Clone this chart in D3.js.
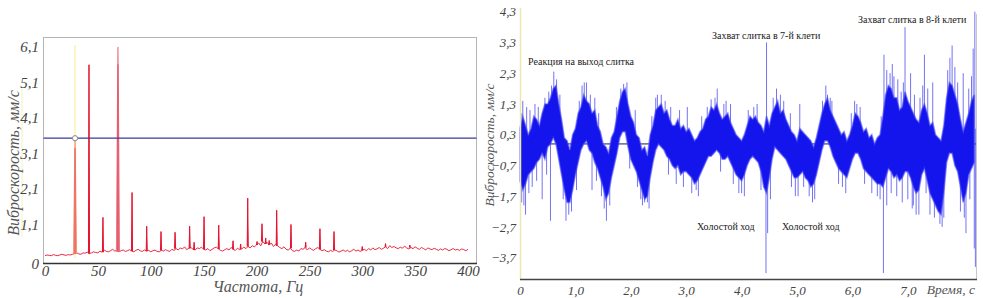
<!DOCTYPE html>
<html>
<head>
<meta charset="utf-8">
<script src="https://cdn.jsdelivr.net/npm/d3@7"></script>
<style>
  body { margin: 0; background: #fff; }
  svg { display: block; }
  text { font-family: "Liberation Serif", "DejaVu Serif", serif; }
</style>
</head>
<body>
<div id="chart"></div>
<script>
// ---- spectrum (left) ----
var specStep = 2; // Hz between floor samples
var specFloor = [
  0.22,0.24,0.23,0.22,0.25,0.23,0.22,0.24,0.26,0.24,0.23,0.25,0.24,0.26,
  0.28,0.3,0.27,0.26,0.3,0.29,0.32,0.28,0.3,0.33,0.31,0.3,
  0.35,0.32,0.38,0.34,0.33,0.36,0.4,0.35,0.37,0.33,0.36,0.38,0.34,0.36,0.39,0.35,0.33,0.37,0.4,0.36,0.34,0.38,0.35,0.37,0.33,
  0.36,0.38,0.34,0.33,0.37,0.35,0.39,0.36,0.34,0.4,0.37,0.42,0.38,0.44,0.41,0.47,0.39,0.43,0.45,0.4,0.38,0.44,0.42,0.46,0.4,
  0.38,0.42,0.36,0.4,0.44,0.46,0.41,0.37,0.35,0.39,0.42,0.38,0.45,0.4,0.37,0.43,0.39,0.41,0.46,0.42,0.48,0.44,0.5,0.47,0.52,
  0.58,0.5,0.62,0.55,0.6,0.52,0.58,0.48,0.54,0.5,0.45,0.42,0.47,0.4,0.38,0.43,0.36,0.34,0.38,0.35,0.42,0.4,0.45,0.38,0.44,
  0.4,0.37,0.42,0.45,0.4,0.36,0.39,0.35,0.33,0.37,0.34,0.38,0.36,0.32,0.35,0.38,0.34,0.37,0.33,0.36,0.4,0.35,0.38,0.34,0.37,
  0.4,0.36,0.42,0.38,0.44,0.39,0.41,0.45,0.4,0.43,0.47,0.42,0.5,0.45,0.48,0.44,0.42,0.46,0.43,0.49,0.44,0.41,0.45,0.42,0.47,
  0.43,0.4,0.45,0.42,0.38,0.44,0.41,0.39,0.43,0.4,0.37,0.41,0.38,0.42,0.4,0.36,0.39,0.42,0.38,0.4,0.37,0.41,0.39,0.36,0.4
];
var peakFreq = [28.4, 41.6, 54.8, 69, 82.3, 96.2, 109.7, 123, 136.8, 141, 150.4, 164.3, 177.8, 185, 191.7, 200.5, 205.2, 208.7, 212, 219.1, 232.6, 246.5, 260, 273.3, 300, 322, 345];
var peakAmp  = [3.53, 5.6, 1.3, 6.1, 2.0, 1.05, 0.9, 0.88, 1.05, 0.6, 1.32, 1.08, 0.64, 0.55, 1.84, 0.62, 1.12, 0.72, 0.65, 1.5, 1.1, 0.6, 0.98, 0.9, 0.48, 0.56, 0.52];
var specLevel = 3.53;
var specYTicks = [0, 1.1, 2.1, 3.1, 4.1, 5.1, 6.1];
var specXTicks = [0, 50, 100, 150, 200, 250, 300, 350, 400];

// ---- time signal (right) ----
var timeStep = 0.05; // s between envelope samples
var coreHi = [
  0.5,0.9,0.6,0.3,0.5,0.9,0.8,0.6,1.0,1.3,1.3,1.5,1.8,1.9,1.3,0.8,0.2,0.1,-0.2,0.3,
  0.5,1.0,1.2,1.6,1.4,1.3,1.0,1.1,0.6,0.4,0.0,-0.1,-0.3,0.2,0.4,0.9,1.4,1.7,1.8,1.3,
  0.9,0.7,0.3,0.2,-0.2,-0.1,-0.4,0.3,0.6,1.1,1.2,1.3,1.0,1.1,0.8,0.6,0.6,0.8,0.5,0.6,
  0.4,0.5,0.3,0.1,0.2,0.4,0.5,0.8,0.9,1.2,1.1,1.3,1.0,0.8,0.9,1.0,0.7,0.5,0.3,0.2,
  0.1,0.3,0.6,0.9,0.8,0.9,0.7,0.6,0.4,0.9,0.6,1.0,1.2,1.4,1.0,1.1,0.8,0.6,0.4,0.3,
  0.1,0.5,0.4,0.3,0.2,0.1,-0.1,0.2,0.6,1.0,1.3,1.5,1.1,0.9,0.7,0.5,0.3,0.4,0.1,0.3,
  0.6,1.0,0.9,0.7,0.4,0.5,0.2,0.3,0.0,0.2,0.3,0.9,1.6,1.9,1.8,1.5,1.5,1.1,1.2,1.7,
  1.4,1.2,1.0,0.8,0.7,1.1,1.3,1.0,0.6,0.7,0.3,0.2,0.1,0.6,1.5,2.0,1.9,1.6,1.3,0.8,
  0.4,0.7,1.0,1.4,1.6
];
var coreLo = [
  -1.2,-1.5,-1.3,-1.0,-0.9,-0.8,-0.6,-0.5,-0.3,-0.5,-0.1,0.0,0.2,0.0,-0.5,-1.0,-1.5,-1.9,-1.9,-1.5,
  -1.0,-0.6,-0.2,0.0,0.1,-0.2,-0.3,-0.6,-0.8,-1.1,-1.4,-1.8,-1.6,-1.1,-0.7,-0.3,0.2,0.4,0.4,-0.1,
  -0.5,-0.7,-0.9,-1.2,-1.5,-1.8,-1.7,-1.1,-0.6,-0.2,0.0,-0.1,-0.2,-0.4,-0.5,-0.7,-0.8,-0.7,-1.0,-0.9,
  -0.9,-1.0,-1.1,-1.3,-1.2,-1.0,-0.8,-0.6,-0.4,-0.4,-0.3,-0.2,-0.3,-0.5,-0.5,-0.4,-0.6,-0.8,-1.0,-1.1,
  -1.2,-1.0,-0.7,-0.5,-0.4,-0.5,-0.6,-0.9,-1.4,-1.6,-1.1,-0.5,-0.1,-0.2,-0.3,-0.4,-0.5,-0.7,-0.9,-1.1,
  -1.1,-1.0,-0.9,-1.1,-1.2,-1.4,-1.3,-1.0,-0.6,-0.2,0.1,0.1,-0.1,-0.4,-0.6,-0.8,-0.9,-1.0,-1.1,-0.8,
  -0.5,-0.3,-0.3,-0.5,-0.8,-0.9,-1.0,-1.1,-1.2,-1.3,-1.3,-1.4,-1.1,-0.8,-0.9,-1.1,-1.0,-1.2,-1.1,-0.9,
  -0.9,-1.1,-1.4,-1.6,-1.5,-1.0,-0.8,-1.2,-1.6,-1.8,-2.0,-2.2,-2.3,-1.6,-0.6,-0.3,-0.3,-0.7,-0.9,-1.4,
  -1.9,-1.6,-1.0,-0.8,-0.6
];
var spikeTime = [
  0.05,0.12,0.45,0.61,0.66,1.12,1.2,1.35,1.87,2.45,2.55,3.02,3.45,3.56,3.8,4.45,4.63,4.7,5.05,5.55,5.6,6.08,6.57,6.62,6.75,6.95,7.05,7.3,7.45,7.8,7.85,8.0,8.18,8.21,
  0.02,0.18,0.27,0.33,0.52,0.57,0.72,1.07,1.16,1.27,1.42,1.74,1.82,1.93,2.08,2.38,2.48,2.62,2.72,2.88,3.28,3.38,3.52,3.68,3.72,4.12,4.22,4.28,4.57,4.76,4.88,5.46,5.52,5.63,5.98,6.04,6.14,6.52,6.68,6.72,6.82,6.88,6.92,7.12,7.22,7.27,7.36,7.72,7.76,7.9,8.1,8.15,
  0.03,0.1,0.4,0.55,0.83,0.88,1.3,1.52,1.56,2.18,2.25,2.3,3.18,4.0,4.44,4.47,5.02,5.32,5.75,6.45,6.56,6.62,7.0,7.1,7.2,7.4,7.62,7.65,8.05,8.2,8.22,
  0.07,0.16,0.22,0.3,0.48,0.78,0.93,1.02,1.38,1.47,1.62,1.98,2.12,2.21,2.33,2.68,2.82,2.95,3.1,3.22,3.62,3.85,3.95,4.05,4.35,4.52,4.9,4.97,5.12,5.22,5.28,5.82,5.88,6.22,6.35,6.5,6.7,6.8,6.9,7.08,7.15,7.33,7.48,7.58,7.95,8.02,8.12
];
var spikeAmp = [
  1.4,1.2,1.5,2.35,2.1,1.9,2.0,1.5,1.95,1.5,1.6,1.2,1.45,1.8,1.3,3.3,1.8,1.6,1.3,1.6,1.5,1.3,2.9,2.4,2.2,3.8,2.3,2.9,2.0,3.2,2.5,2.3,3.1,4.3,
  1.0,1.1,1.3,1.2,1.7,1.9,1.6,1.4,2.0,1.6,1.0,1.2,1.8,2.0,1.1,0.9,1.6,1.4,1.2,1.1,0.9,1.2,1.5,1.3,1.4,1.1,1.2,1.3,1.5,1.4,1.0,1.4,1.9,1.4,1.0,1.4,1.2,0.9,2.3,2.6,2.1,1.7,2.0,1.6,1.5,1.9,1.8,2.4,2.8,2.0,1.8,2.2,
  -1.9,-2.3,-1.8,-2.5,-2.5,-2.3,-1.5,-2.1,-2.5,-1.8,-1.9,-1.9,-1.5,-1.6,-4.2,-2.9,-1.7,-1.8,-1.3,-1.7,-4.2,-2.0,-1.8,-2.0,-2.3,-2.3,-2.7,-2.4,-2.9,-3.4,-4.0,
  -2.0,-1.6,-1.4,-1.2,-1.0,-1.8,-2.2,-1.5,-1.2,-1.7,-2.0,-0.8,-1.4,-2.0,-2.1,-1.0,-1.3,-1.4,-1.6,-1.7,-0.9,-1.3,-1.6,-1.7,-1.5,-1.8,-1.4,-1.7,-1.4,-1.7,-1.9,-1.4,-1.6,-1.3,-1.6,-1.8,-1.6,-1.7,-1.9,-2.1,-2.3,-1.6,-2.4,-2.6,-2.2,-2.4,-1.8
];
var timeYTicks = [4.3, 3.3, 2.3, 1.3, 0.3, -0.7, -1.7, -2.7, -3.7];
var timeXTicks = [0, 1, 2, 3, 4, 5, 6, 7];
var notes = ["Реакция на выход слитка", "Захват слитка в 7-й клети", "Захват слитка в 8-й клети", "Холостой ход", "Холостой ход"];

function comma(v) {
  if (v === 0) return "0";
  return d3.format(".1f")(v).replace(".", ",");
}

function init() {
  var w = 983, h = 298;
  var svg = d3.select("#chart").append("svg").attr("width", w).attr("height", h);
  svg.append("rect").attr("width", w).attr("height", h).attr("fill", "#fff");

  // ================= left panel =================
  var xF = d3.scaleLinear().domain([0, 400]).range([45, 468]);
  var yF = d3.scaleLinear().domain([0, 6.1]).range([263.5, 47]);
  var left = svg.append("g");

  left.append("rect")
      .attr("x", 43.5).attr("y", 37.5)
      .attr("width", 433).attr("height", 226)
      .attr("fill", "none").attr("stroke", "#b5b5b5");

  // faint marker lines
  left.append("line")
      .attr("x1", 22).attr("x2", 22).attr("y1", 87).attr("y2", 237)
      .attr("stroke", "#f8f6d2").attr("stroke-width", 1.5);
  left.append("line")
      .attr("x1", xF(28.4)).attr("x2", xF(28.4)).attr("y1", 45).attr("y2", 258)
      .attr("stroke", "#faf6c8").attr("stroke-width", 2);

  var floorPts = specFloor.map(function(v, i) { return [i * specStep, v]; });
  var line = d3.line().x(function(d) { return xF(d[0]); }).y(function(d) { return yF(d[1]); });
  left.append("path")
      .attr("d", line(floorPts))
      .attr("fill", "none").attr("stroke", "#e5132f").attr("stroke-width", 0.9);

  peakFreq.forEach(function(f, i) {
    var base = specFloor[Math.round(f / specStep)];
    var wide = (i === 0 || i === 3);
    var hw = wide ? 1.4 : 0.5;
    var col = i === 0 ? "#f29a7f" : (i === 3 ? "#ea7c8a" : "#e5132f");
    left.append("path")
        .attr("d", line([[f - hw, base], [f, peakAmp[i]], [f + hw, base]]))
        .attr("fill", col).attr("stroke", col).attr("stroke-width", wide ? 1.2 : 1);
    if (wide) {
      left.append("path")
          .attr("d", line([[f, base], [f, peakAmp[i] * 0.92]]))
          .attr("stroke", "#e5132f").attr("stroke-width", 0.8).attr("opacity", 0.7);
    }
  });

  left.append("line")
      .attr("x1", 43.5).attr("x2", 476.5)
      .attr("y1", yF(specLevel)).attr("y2", yF(specLevel))
      .attr("stroke", "#3b3b9e").attr("stroke-width", 1.3);
  left.append("circle")
      .attr("cx", xF(28.4)).attr("cy", yF(specLevel)).attr("r", 2.6)
      .attr("fill", "#fff").attr("stroke", "#888").attr("stroke-width", 1);

  left.append("line")
      .attr("x1", 43).attr("x2", 477).attr("y1", 263.5).attr("y2", 263.5)
      .attr("stroke", "#333").attr("stroke-width", 1.4);

  var axL = left.append("g").attr("transform", "translate(43,0)")
      .call(d3.axisLeft(yF).tickValues(specYTicks).tickSize(0).tickPadding(4).tickFormat(comma));
  var axB = left.append("g").attr("transform", "translate(0,263.5)")
      .call(d3.axisBottom(xF).tickValues(specXTicks).tickSize(0).tickPadding(2).tickFormat(d3.format("d")));
  [axL, axB].forEach(function(a) {
    a.select(".domain").remove();
    a.selectAll("text")
        .attr("font-style", "italic").attr("font-size", 15).attr("fill", "#444");
  });

  left.append("text")
      .attr("transform", "translate(19,163) rotate(-90)")
      .attr("text-anchor", "middle")
      .attr("font-style", "italic").attr("font-size", 16).attr("fill", "#555")
      .text("Виброскорость, мм/с");
  left.append("text")
      .attr("x", 258).attr("y", 292)
      .attr("text-anchor", "middle")
      .attr("font-style", "italic").attr("font-size", 16).attr("fill", "#555")
      .text("Частота, Гц");

  // ================= right panel =================
  var xT = d3.scaleLinear().domain([0, 8]).range([520, 963.2]);
  var yT = d3.scaleLinear().domain([-3.7, 4.3]).range([257.7, 11.7]);
  var right = svg.append("g");

  right.append("line")
      .attr("x1", 976.5).attr("x2", 976.5).attr("y1", 14).attr("y2", 280)
      .attr("stroke", "#c8c8c8");

  right.append("line")
      .attr("x1", 520).attr("x2", 976).attr("y1", yT(0)).attr("y2", yT(0))
      .attr("stroke", "#1b1b55").attr("stroke-width", 1);

  var band = coreHi.map(function(v, i) { return { t: i * timeStep, hi: v, lo: coreLo[i] }; });
  var area = d3.area()
      .x(function(d) { return xT(d.t); })
      .y0(function(d) { return yT(d.lo); })
      .y1(function(d) { return yT(d.hi); });

  spikeTime.forEach(function(t, i) {
    var k = Math.min(band.length - 1, Math.round(t / timeStep));
    var mid = (band[k].hi + band[k].lo) / 2;
    right.append("line")
        .attr("x1", xT(t)).attr("x2", xT(t))
        .attr("y1", yT(mid)).attr("y2", yT(spikeAmp[i]))
        .attr("stroke", "#3a3af2").attr("stroke-width", 1).attr("opacity", 0.7);
  });

  right.append("path")
      .attr("d", area(band))
      .attr("fill", "#1414ec")
      .attr("stroke", "#4e4efa").attr("stroke-width", 1.6).attr("stroke-opacity", 0.6);

  right.append("line")
      .attr("x1", 520.5).attr("x2", 520.5).attr("y1", 8).attr("y2", 280)
      .attr("stroke", "#ebe7b0").attr("stroke-width", 1.5);
  right.append("line")
      .attr("x1", 520).attr("x2", 977).attr("y1", 279.5).attr("y2", 279.5)
      .attr("stroke", "#444").attr("stroke-width", 1.4);

  var axR = right.append("g").attr("transform", "translate(520,0)")
      .call(d3.axisLeft(yT).tickValues(timeYTicks).tickSize(0).tickPadding(4).tickFormat(comma));
  var axT = right.append("g").attr("transform", "translate(0,279.5)")
      .call(d3.axisBottom(xT).tickValues(timeXTicks).tickSize(0).tickPadding(6).tickFormat(comma));
  [axR, axT].forEach(function(a) {
    a.select(".domain").remove();
    a.selectAll("text")
        .attr("font-style", "italic").attr("font-size", 13).attr("fill", "#444");
  });

  right.append("text")
      .attr("transform", "translate(494,145) rotate(-90)")
      .attr("text-anchor", "middle")
      .attr("font-style", "italic").attr("font-size", 13.5).attr("fill", "#555")
      .text("Виброскорость, мм/с");
  right.append("text")
      .attr("x", 975).attr("y", 294)
      .attr("text-anchor", "end")
      .attr("font-style", "italic").attr("font-size", 13.5).attr("fill", "#555")
      .text("Время, с");

  var notePos = [[528, 65], [712, 39], [858, 23], [697, 230], [782, 230]];
  notes.forEach(function(s, i) {
    right.append("text")
        .attr("x", notePos[i][0]).attr("y", notePos[i][1])
        .attr("font-size", 10).attr("fill", "#222")
        .text(s);
  });
}

window.onload = init;
</script>
</body>
</html>
